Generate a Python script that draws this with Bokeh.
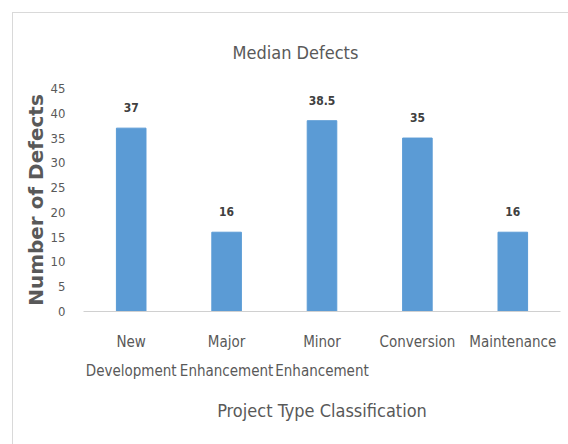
from bokeh.plotting import figure
from bokeh.models import FactorRange, Range1d, ColumnDataSource, FixedTicker
from bokeh.embed import file_html
from bokeh.resources import INLINE

categories = ["New\nDevelopment", "Major\nEnhancement", "Minor\nEnhancement", "Conversion", "Maintenance"]
values = [37, 16, 38.5, 35, 16]
value_labels = ["37", "16", "38.5", "35", "16"]
y_ticks = [0, 5, 10, 15, 20, 25, 30, 35, 40, 45]

FONT = "'DejaVu Sans Condensed', Roboto, sans-serif"
GRAY = "#595959"

src = ColumnDataSource(dict(cat=categories, val=values, lab=value_labels))

p = figure(x_range=FactorRange(*categories, range_padding=0), y_range=Range1d(0, 45),
           width=556, height=432, output_backend="svg", toolbar_location=None,
           min_border_left=70, min_border_right=9, min_border_top=75, min_border_bottom=134)
p.styles = {"border-left": "1px solid #d9d9d9", "border-top": "1px solid #d9d9d9",
            "margin": "12px 0 0 12px"}
p.outline_line_color = None
p.grid.grid_line_color = None

p.title.text = "Median Defects"
p.title.align = "left"
p.title.offset = 149
p.title.standoff = 52
p.title.text_font = FONT
p.title.text_font_size = "18px"
p.title.text_font_style = "normal"
p.title.text_color = GRAY

p.vbar(x="cat", top="val", width=0.31, source=src, color="#5B9BD5")
p.text(x="cat", y="val", text="lab", source=src, text_align="center", text_baseline="bottom",
       y_offset=-16, text_font_size="12px", text_font_style="bold", text_color="#404040",
       text_font={"value": FONT})

p.yaxis.ticker = FixedTicker(ticks=y_ticks)
p.yaxis.axis_line_color = None
p.yaxis.major_tick_line_color = None
p.yaxis.minor_tick_line_color = None
p.yaxis.major_label_text_font = FONT
p.yaxis.major_label_text_font_size = "13px"
p.yaxis.major_label_text_color = GRAY
p.yaxis.major_label_standoff = 12
p.yaxis.axis_label = "Number of Defects"
p.yaxis.axis_label_text_font = "DejaVu Sans"
p.yaxis.axis_label_text_font_size = "20px"
p.yaxis.axis_label_text_font_style = "bold"
p.yaxis.axis_label_text_color = GRAY
p.yaxis.axis_label_standoff = 0

p.xaxis.axis_line_color = "#d0d0d0"
p.xaxis.major_tick_line_color = None
p.xaxis.minor_tick_line_color = None
p.xaxis.major_label_text_font = FONT
p.xaxis.major_label_text_font_size = "15px"
p.xaxis.major_label_text_line_height = 1.65
p.xaxis.major_label_text_color = GRAY
p.xaxis.major_label_standoff = 15
p.xaxis.axis_label = "Project Type Classification"
p.xaxis.axis_label_text_font = FONT
p.xaxis.axis_label_text_font_size = "18px"
p.xaxis.axis_label_text_font_style = "normal"
p.xaxis.axis_label_text_color = GRAY
p.xaxis.axis_label_standoff = 17

open("out.html", "w").write(file_html(p, INLINE))
